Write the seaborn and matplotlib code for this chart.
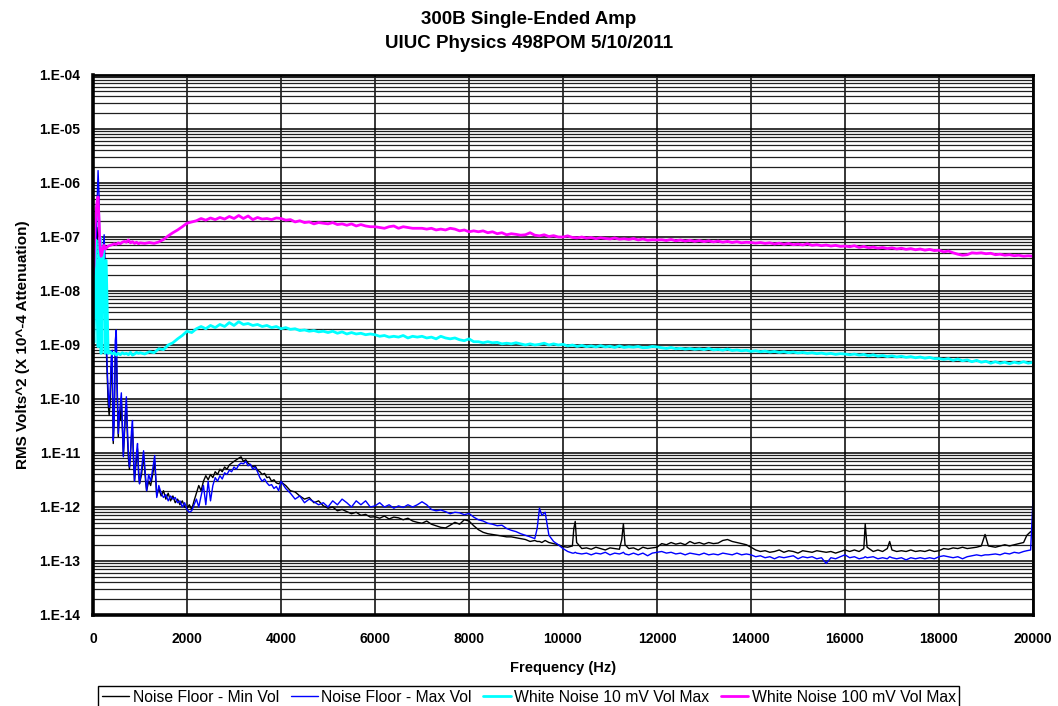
"""
300B single-ended amp noise spectra (UIUC Physics 498POM, 5/10/2011)
Excel-style log plot of RMS Volts^2 vs frequency
"""

import math
import matplotlib
matplotlib.use('Agg')
import matplotlib.pyplot as plt
import seaborn as sns
from matplotlib.ticker import FixedLocator, FuncFormatter, LogLocator, NullFormatter


# Noise floor curves
floor_freq = [
    0, 21, 43, 64, 86, 108, 129, 151, 172, 194,
    215, 237, 258, 280, 301, 323, 344, 366, 388, 409,
    431, 452, 474, 495, 517, 538, 560, 581, 603, 624,
    646, 667, 689, 710, 732, 753, 775, 797, 818, 840,
    861, 883, 904, 926, 947, 969, 990, 1033, 1076, 1119,
    1141, 1184, 1227, 1270, 1313, 1356, 1400, 1450, 1500, 1550,
    1600, 1650, 1700, 1750, 1800, 1850, 1900, 1950, 2000, 2050,
    2100, 2150, 2200, 2250, 2300, 2350, 2400, 2450, 2500, 2550,
    2600, 2650, 2700, 2750, 2800, 2850, 2900, 2950, 3000, 3050,
    3100, 3150, 3200, 3250, 3300, 3350, 3400, 3450, 3500, 3550,
    3600, 3650, 3700, 3750, 3800, 3850, 3900, 3950, 4000, 4100,
    4200, 4300, 4400, 4500, 4600, 4700, 4800, 4900, 5000, 5100,
    5200, 5300, 5400, 5500, 5600, 5700, 5800, 5900, 6000, 6100,
    6200, 6300, 6400, 6500, 6600, 6700, 6800, 6900, 7000, 7100,
    7200, 7300, 7400, 7500, 7600, 7700, 7800, 7900, 8000, 8100,
    8200, 8300, 8400, 8500, 8600, 8700, 8800, 8900, 9000, 9100,
    9200, 9300, 9400, 9450, 9500, 9550, 9620, 9700, 9800, 9900,
    10000, 10100, 10200, 10230, 10260, 10290, 10400, 10500, 10600, 10700,
    10800, 10900, 11000, 11100, 11200, 11250, 11285, 11320, 11400, 11500,
    11600, 11700, 11800, 11900, 12000, 12100, 12200, 12300, 12400, 12500,
    12600, 12700, 12800, 12900, 13000, 13100, 13200, 13300, 13400, 13500,
    13600, 13700, 13800, 13900, 14000, 14100, 14200, 14300, 14400, 14500,
    14600, 14700, 14800, 14900, 15000, 15100, 15200, 15300, 15400, 15500,
    15600, 15700, 15800, 15900, 16000, 16100, 16200, 16300, 16400, 16430,
    16470, 16600, 16700, 16800, 16900, 16950, 17000, 17100, 17200, 17300,
    17400, 17500, 17600, 17700, 17800, 17900, 18000, 18100, 18200, 18300,
    18400, 18500, 18600, 18700, 18800, 18900, 18980, 19050, 19200, 19300,
    19400, 19500, 19600, 19700, 19800, 19870, 19950, 20000,
]

floor_min_vol = [
    3e-9, 1e-8, 4e-9, 2e-8, 8e-8, 1.5e-7, 1e-7, 3e-8, 5e-9, 3e-8,
    4e-8, 8e-8, 2e-8, 1e-9, 3e-10, 8e-11, 5e-11, 9e-11, 4e-10, 3e-10,
    1.5e-11, 5e-11, 6e-10, 1e-9, 1e-10, 2e-11, 6e-11, 4e-11, 9e-11, 3e-11,
    9e-12, 2e-11, 5e-11, 8e-11, 2e-11, 8e-12, 5e-12, 1e-11, 2e-11, 3e-11,
    8e-12, 3e-12, 5e-12, 8e-12, 1.2e-11, 5e-12, 2.7e-12, 4e-12, 9e-12, 3e-12,
    2e-12, 3e-12, 2.5e-12, 4e-12, 7e-12, 1.6e-12, 2.2e-12, 1.6e-12, 2e-12, 1.4e-12,
    1.8e-12, 1.3e-12, 1.6e-12, 1.2e-12, 1.4e-12, 1.1e-12, 1.3e-12, 1.0e-12, 9.5e-13, 1.1e-12,
    9e-13, 1.3e-12, 1.8e-12, 2.5e-12, 2.0e-12, 3.0e-12, 3.8e-12, 3.2e-12, 4.0e-12, 3.5e-12,
    4.5e-12, 4.0e-12, 5.0e-12, 4.5e-12, 5.5e-12, 5.0e-12, 6.0e-12, 6.5e-12, 7.0e-12, 7.5e-12,
    8.0e-12, 8.5e-12, 7.0e-12, 7.5e-12, 6.5e-12, 6.0e-12, 5.5e-12, 5.8e-12, 4.8e-12, 4.5e-12,
    4.0e-12, 4.2e-12, 3.5e-12, 3.6e-12, 3.0e-12, 3.2e-12, 2.8e-12, 2.7e-12, 2.9e-12, 2.5e-12,
    2.0e-12, 1.9e-12, 1.6e-12, 1.4e-12, 1.5e-12, 1.2e-12, 1.3e-12, 1.05e-12, 9.5e-13, 1.0e-12,
    8.5e-13, 9e-13, 8.2e-13, 7.5e-13, 8e-13, 7e-13, 7.3e-13, 6.5e-13, 6.6e-13, 6.2e-13,
    6.8e-13, 6e-13, 6.5e-13, 6.3e-13, 5.8e-13, 6.2e-13, 5.5e-13, 5.2e-13, 5.0e-13, 5.5e-13,
    4.8e-13, 4.5e-13, 4.2e-13, 4.1e-13, 4.6e-13, 5.2e-13, 4.8e-13, 5.8e-13, 5.5e-13, 4.5e-13,
    3.8e-13, 3.4e-13, 3.2e-13, 3.1e-13, 3.0e-13, 2.9e-13, 2.8e-13, 2.8e-13, 2.7e-13, 2.6e-13,
    2.5e-13, 2.3e-13, 2.4e-13, 2.3e-13, 2.3e-13, 2.2e-13, 2.4e-13, 2.2e-13, 2.1e-13, 2.0e-13,
    1.85e-13, 1.8e-13, 1.9e-13, 4.0e-13, 5.4e-13, 2.2e-13, 1.7e-13, 1.75e-13, 1.65e-13, 1.8e-13,
    1.7e-13, 1.6e-13, 1.75e-13, 1.7e-13, 1.65e-13, 2.5e-13, 4.9e-13, 2.0e-13, 1.7e-13, 1.75e-13,
    1.6e-13, 1.8e-13, 1.7e-13, 1.75e-13, 1.8e-13, 2.1e-13, 2.0e-13, 2.2e-13, 2.05e-13, 2.15e-13,
    2.0e-13, 2.3e-13, 2.1e-13, 2.2e-13, 2.05e-13, 2.2e-13, 2.1e-13, 2.15e-13, 2.4e-13, 2.5e-13,
    2.3e-13, 2.2e-13, 2.1e-13, 2.0e-13, 1.8e-13, 1.6e-13, 1.5e-13, 1.55e-13, 1.45e-13, 1.5e-13,
    1.6e-13, 1.45e-13, 1.55e-13, 1.5e-13, 1.4e-13, 1.55e-13, 1.5e-13, 1.45e-13, 1.55e-13, 1.5e-13,
    1.45e-13, 1.5e-13, 1.4e-13, 1.5e-13, 1.6e-13, 1.5e-13, 1.6e-13, 1.5e-13, 1.7e-13, 4.9e-13,
    1.8e-13, 1.5e-13, 1.6e-13, 1.5e-13, 1.7e-13, 2.3e-13, 1.6e-13, 1.5e-13, 1.55e-13, 1.5e-13,
    1.6e-13, 1.5e-13, 1.55e-13, 1.5e-13, 1.6e-13, 1.5e-13, 1.55e-13, 1.7e-13, 1.65e-13, 1.75e-13,
    1.7e-13, 1.8e-13, 1.7e-13, 1.75e-13, 1.8e-13, 1.9e-13, 3.1e-13, 1.9e-13, 1.8e-13, 1.9e-13,
    2.0e-13, 1.9e-13, 2.0e-13, 2.1e-13, 2.2e-13, 3.0e-13, 3.5e-13, 3.2e-13,
]

floor_max_vol = [
    1.3e-9, 2.1e-8, 5e-9, 3e-8, 4e-7, 1.7e-6, 5.6e-7, 4e-8, 8e-9, 5e-8,
    6e-8, 1.1e-7, 2.8e-8, 2e-9, 4e-10, 1.3e-10, 7e-11, 1.5e-10, 6e-10, 8e-10,
    1.7e-11, 4e-11, 1.2e-9, 1.9e-9, 1.5e-10, 2.3e-11, 5e-11, 8e-11, 1.3e-10, 4e-11,
    8.5e-12, 2.5e-11, 6e-11, 1.1e-10, 3e-11, 1e-11, 5.5e-12, 8e-12, 2.5e-11, 4e-11,
    9e-12, 3e-12, 6e-12, 1e-11, 1.5e-11, 4e-12, 2.7e-12, 5e-12, 1.1e-11, 3.5e-12,
    2e-12, 4e-12, 3e-12, 5e-12, 9e-12, 1.5e-12, 2.5e-12, 1.8e-12, 1.5e-12, 1.7e-12,
    1.3e-12, 1.6e-12, 1.4e-12, 1.5e-12, 1.2e-12, 1.3e-12, 1.0e-12, 1.2e-12, 9e-13, 8e-13,
    8.5e-13, 1.1e-12, 1.4e-12, 1.0e-12, 1.6e-12, 2.5e-12, 1.1e-12, 3.0e-12, 1.3e-12, 2.5e-12,
    3.5e-12, 3.0e-12, 3.8e-12, 3.3e-12, 4.3e-12, 4.0e-12, 4.8e-12, 4.5e-12, 5.5e-12, 5.0e-12,
    6.0e-12, 6.5e-12, 6.3e-12, 7.0e-12, 5.8e-12, 6.2e-12, 5.0e-12, 5.5e-12, 4.5e-12, 3.5e-12,
    3.0e-12, 3.3e-12, 2.8e-12, 2.5e-12, 2.6e-12, 2.2e-12, 2.4e-12, 2.0e-12, 3.0e-12, 2.2e-12,
    1.8e-12, 1.4e-12, 1.6e-12, 1.2e-12, 1.4e-12, 1.25e-12, 1.1e-12, 1.2e-12, 1.0e-12, 1.3e-12,
    1.1e-12, 1.4e-12, 1.2e-12, 1.0e-12, 1.3e-12, 1.1e-12, 1.3e-12, 1.0e-12, 1.05e-12, 1.2e-12,
    1.0e-12, 1.1e-12, 9.5e-13, 1.05e-12, 9.8e-13, 1.1e-12, 1.0e-12, 1.1e-12, 1.25e-12, 1.1e-12,
    9e-13, 8.5e-13, 8.8e-13, 8.2e-13, 7.5e-13, 8e-13, 7.8e-13, 7.2e-13, 7.6e-13, 6.5e-13,
    5.8e-13, 5.5e-13, 5.0e-13, 4.8e-13, 4.5e-13, 4.6e-13, 4.0e-13, 3.7e-13, 3.5e-13, 3.2e-13,
    3.0e-13, 2.8e-13, 2.6e-13, 4.0e-13, 9.5e-13, 7.0e-13, 8.0e-13, 3.0e-13, 2.3e-13, 2.0e-13,
    1.7e-13, 1.5e-13, 1.4e-13, 1.4e-13, 1.45e-13, 1.4e-13, 1.35e-13, 1.4e-13, 1.3e-13, 1.4e-13,
    1.35e-13, 1.45e-13, 1.3e-13, 1.4e-13, 1.35e-13, 1.4e-13, 1.45e-13, 1.35e-13, 1.3e-13, 1.4e-13,
    1.3e-13, 1.4e-13, 1.25e-13, 1.4e-13, 1.45e-13, 1.5e-13, 1.4e-13, 1.45e-13, 1.35e-13, 1.4e-13,
    1.3e-13, 1.4e-13, 1.35e-13, 1.3e-13, 1.4e-13, 1.3e-13, 1.35e-13, 1.3e-13, 1.4e-13, 1.35e-13,
    1.3e-13, 1.4e-13, 1.3e-13, 1.35e-13, 1.3e-13, 1.2e-13, 1.25e-13, 1.15e-13, 1.2e-13, 1.1e-13,
    1.2e-13, 1.15e-13, 1.2e-13, 1.25e-13, 1.1e-13, 1.2e-13, 1.15e-13, 1.2e-13, 1.1e-13, 1.15e-13,
    9e-14, 1.15e-13, 1.1e-13, 1.2e-13, 1.3e-13, 1.15e-13, 1.2e-13, 1.1e-13, 1.15e-13, 1.2e-13,
    1.15e-13, 1.2e-13, 1.1e-13, 1.15e-13, 1.1e-13, 1.2e-13, 1.15e-13, 1.1e-13, 1.15e-13, 1.05e-13,
    1.15e-13, 1.1e-13, 1.15e-13, 1.1e-13, 1.15e-13, 1.1e-13, 1.2e-13, 1.25e-13, 1.2e-13, 1.15e-13,
    1.2e-13, 1.1e-13, 1.2e-13, 1.25e-13, 1.3e-13, 1.25e-13, 1.3e-13, 1.3e-13, 1.35e-13, 1.3e-13,
    1.4e-13, 1.35e-13, 1.45e-13, 1.4e-13, 1.5e-13, 1.55e-13, 1.6e-13, 1.4e-12,
]

# White noise curves
white_freq = [
    0, 21, 43, 64, 86, 108, 129, 151, 172, 194,
    215, 237, 258, 280, 301, 323, 366, 409, 452, 495,
    538, 581, 624, 667, 710, 753, 797, 840, 883, 926,
    969, 1000, 1100, 1200, 1300, 1400, 1500, 1600, 1700, 1800,
    1900, 2000, 2100, 2200, 2300, 2400, 2500, 2600, 2700, 2800,
    2900, 3000, 3100, 3200, 3300, 3400, 3500, 3600, 3700, 3800,
    3900, 4000, 4100, 4200, 4300, 4400, 4500, 4600, 4700, 4800,
    4900, 5000, 5100, 5200, 5300, 5400, 5500, 5600, 5700, 5800,
    5900, 6000, 6100, 6200, 6300, 6400, 6500, 6600, 6700, 6800,
    6900, 7000, 7100, 7200, 7300, 7400, 7500, 7600, 7700, 7800,
    7900, 8000, 8100, 8200, 8300, 8400, 8500, 8600, 8700, 8800,
    8900, 9000, 9100, 9200, 9300, 9400, 9500, 9600, 9700, 9800,
    9900, 10000, 10100, 10200, 10300, 10400, 10500, 10600, 10700, 10800,
    10900, 11000, 11100, 11200, 11300, 11400, 11500, 11600, 11700, 11800,
    11900, 12000, 12100, 12200, 12300, 12400, 12500, 12600, 12700, 12800,
    12900, 13000, 13100, 13200, 13300, 13400, 13500, 13600, 13700, 13800,
    13900, 14000, 14100, 14200, 14300, 14400, 14500, 14600, 14700, 14800,
    14900, 15000, 15100, 15200, 15300, 15400, 15500, 15600, 15700, 15800,
    15900, 16000, 16100, 16200, 16300, 16400, 16500, 16600, 16700, 16800,
    16900, 17000, 17100, 17200, 17300, 17400, 17500, 17600, 17700, 17800,
    17900, 18000, 18100, 18200, 18300, 18400, 18500, 18600, 18700, 18800,
    18900, 19000, 19100, 19200, 19300, 19400, 19500, 19600, 19700, 19800,
    19900, 20000,
]

white_10mv = [
    2.5e-9, 1.1e-9, 8e-9, 8.8e-8, 5e-9, 9.3e-10, 3e-8, 1.0e-7, 7e-10, 2e-8,
    6.6e-8, 8e-9, 7e-10, 3.7e-8, 5e-9, 7e-10, 7.5e-10, 6.8e-10, 7.2e-10, 6.5e-10,
    7e-10, 6.6e-10, 7.2e-10, 6.8e-10, 7e-10, 6.6e-10, 7.3e-10, 6.5e-10, 6.8e-10, 7.3e-10,
    7.0e-10, 7.2e-10, 6.8e-10, 7.5e-10, 7.2e-10, 8.5e-10, 8.2e-10, 1.0e-9, 1.1e-9, 1.3e-9,
    1.5e-9, 1.8e-9, 1.7e-9, 2.0e-9, 2.2e-9, 2.0e-9, 2.3e-9, 2.1e-9, 2.4e-9, 2.2e-9,
    2.6e-9, 2.3e-9, 2.7e-9, 2.4e-9, 2.5e-9, 2.3e-9, 2.4e-9, 2.2e-9, 2.3e-9, 2.1e-9,
    2.2e-9, 2.0e-9, 2.1e-9, 1.95e-9, 2.0e-9, 1.85e-9, 1.9e-9, 1.8e-9, 1.85e-9, 1.75e-9,
    1.8e-9, 1.7e-9, 1.8e-9, 1.65e-9, 1.75e-9, 1.6e-9, 1.7e-9, 1.6e-9, 1.65e-9, 1.55e-9,
    1.6e-9, 1.55e-9, 1.45e-9, 1.5e-9, 1.4e-9, 1.45e-9, 1.4e-9, 1.5e-9, 1.35e-9, 1.45e-9,
    1.4e-9, 1.45e-9, 1.35e-9, 1.4e-9, 1.3e-9, 1.45e-9, 1.35e-9, 1.3e-9, 1.35e-9, 1.25e-9,
    1.2e-9, 1.3e-9, 1.15e-9, 1.15e-9, 1.1e-9, 1.15e-9, 1.1e-9, 1.12e-9, 1.05e-9, 1.08e-9,
    1.05e-9, 1.1e-9, 1.05e-9, 1.0e-9, 1.05e-9, 1.0e-9, 1.03e-9, 1.08e-9, 1.0e-9, 1.05e-9,
    1.0e-9, 1.03e-9, 9.6e-10, 1.0e-9, 9.4e-10, 9.8e-10, 9.3e-10, 9.6e-10, 9.2e-10, 9.7e-10,
    9.2e-10, 9.5e-10, 9.0e-10, 9.6e-10, 9.0e-10, 9.3e-10, 9.1e-10, 9.4e-10, 8.9e-10, 9.0e-10,
    9.4e-10, 9.2e-10, 8.9e-10, 8.6e-10, 9.0e-10, 8.5e-10, 8.7e-10, 8.4e-10, 8.6e-10, 8.3e-10,
    8.5e-10, 8.2e-10, 8.6e-10, 8.1e-10, 8.3e-10, 8.0e-10, 8.4e-10, 7.9e-10, 8.1e-10, 7.8e-10,
    8.0e-10, 7.6e-10, 7.8e-10, 7.5e-10, 7.7e-10, 7.4e-10, 7.6e-10, 7.3e-10, 7.5e-10, 7.2e-10,
    7.4e-10, 7.1e-10, 7.3e-10, 7.0e-10, 7.2e-10, 6.9e-10, 7.1e-10, 6.8e-10, 7.0e-10, 6.7e-10,
    6.9e-10, 6.8e-10, 6.6e-10, 6.8e-10, 6.5e-10, 6.7e-10, 6.3e-10, 6.6e-10, 6.2e-10, 6.4e-10,
    6.1e-10, 6.3e-10, 6.0e-10, 6.2e-10, 5.9e-10, 6.1e-10, 5.8e-10, 6.0e-10, 5.7e-10, 5.9e-10,
    5.6e-10, 5.6e-10, 5.4e-10, 5.6e-10, 5.2e-10, 5.5e-10, 5.1e-10, 5.3e-10, 4.9e-10, 5.2e-10,
    4.8e-10, 5.0e-10, 4.6e-10, 4.9e-10, 4.6e-10, 4.8e-10, 4.5e-10, 4.8e-10, 4.6e-10, 4.9e-10,
    4.6e-10, 4.8e-10,
]

white_100mv = [
    2e-8, 3e-8, 1.5e-7, 3e-7, 4.5e-7, 5.5e-7, 2e-7, 6e-8, 4.4e-8, 5e-8,
    6.6e-8, 7e-8, 6e-8, 6.2e-8, 6.5e-8, 6.8e-8, 7e-8, 7.2e-8, 7.5e-8, 7.3e-8,
    7.8e-8, 7.5e-8, 8e-8, 8.3e-8, 8e-8, 8.8e-8, 7.8e-8, 8.2e-8, 7.6e-8, 8e-8,
    7.5e-8, 7.8e-8, 7.6e-8, 7.9e-8, 7.6e-8, 8.1e-8, 9e-8, 1.05e-7, 1.2e-7, 1.35e-7,
    1.55e-7, 1.8e-7, 1.9e-7, 2.0e-7, 2.2e-7, 2.05e-7, 2.25e-7, 2.1e-7, 2.3e-7, 2.15e-7,
    2.4e-7, 2.2e-7, 2.5e-7, 2.2e-7, 2.45e-7, 2.1e-7, 2.3e-7, 2.15e-7, 2.2e-7, 2.1e-7,
    2.25e-7, 2.2e-7, 2.05e-7, 2.1e-7, 1.9e-7, 2.0e-7, 1.85e-7, 1.9e-7, 1.75e-7, 1.85e-7,
    1.8e-7, 1.75e-7, 1.85e-7, 1.7e-7, 1.75e-7, 1.65e-7, 1.75e-7, 1.6e-7, 1.7e-7, 1.6e-7,
    1.55e-7, 1.55e-7, 1.5e-7, 1.45e-7, 1.55e-7, 1.6e-7, 1.45e-7, 1.55e-7, 1.5e-7, 1.45e-7,
    1.45e-7, 1.45e-7, 1.4e-7, 1.45e-7, 1.35e-7, 1.4e-7, 1.35e-7, 1.45e-7, 1.4e-7, 1.3e-7,
    1.35e-7, 1.25e-7, 1.3e-7, 1.25e-7, 1.3e-7, 1.2e-7, 1.25e-7, 1.15e-7, 1.2e-7, 1.1e-7,
    1.15e-7, 1.12e-7, 1.08e-7, 1.1e-7, 1.2e-7, 1.08e-7, 1.05e-7, 1.1e-7, 1.02e-7, 1.06e-7,
    1.0e-7, 1.0e-7, 1.05e-7, 9.8e-8, 9.6e-8, 1.0e-7, 9.5e-8, 9.8e-8, 9.3e-8, 9.7e-8,
    9.4e-8, 9.2e-8, 9.6e-8, 9.1e-8, 9.3e-8, 9.0e-8, 9.4e-8, 8.8e-8, 9.2e-8, 8.7e-8,
    8.9e-8, 8.8e-8, 8.9e-8, 8.6e-8, 9.0e-8, 8.5e-8, 8.8e-8, 8.4e-8, 8.7e-8, 8.3e-8,
    8.6e-8, 8.2e-8, 8.5e-8, 8.1e-8, 8.4e-8, 8.0e-8, 8.3e-8, 7.9e-8, 8.2e-8, 7.8e-8,
    8.0e-8, 7.9e-8, 7.7e-8, 7.9e-8, 7.6e-8, 7.8e-8, 7.4e-8, 7.7e-8, 7.3e-8, 7.6e-8,
    7.2e-8, 7.4e-8, 7.1e-8, 7.5e-8, 7.0e-8, 7.2e-8, 6.9e-8, 7.1e-8, 6.8e-8, 7.0e-8,
    6.7e-8, 6.8e-8, 6.6e-8, 6.9e-8, 6.4e-8, 6.7e-8, 6.3e-8, 6.5e-8, 6.2e-8, 6.4e-8,
    6.1e-8, 6.3e-8, 6.0e-8, 6.2e-8, 5.9e-8, 6.1e-8, 5.8e-8, 6.0e-8, 5.7e-8, 5.9e-8,
    5.6e-8, 5.7e-8, 5.3e-8, 5.5e-8, 5.1e-8, 4.8e-8, 4.6e-8, 4.7e-8, 5.1e-8, 5.0e-8,
    5.1e-8, 4.9e-8, 5.0e-8, 4.7e-8, 4.8e-8, 4.6e-8, 4.7e-8, 4.5e-8, 4.6e-8, 4.4e-8,
    4.5e-8, 4.4e-8,
]

series_names = ['Noise Floor - Min Vol', 'Noise Floor - Max Vol',
                'White Noise 10 mV Vol Max', 'White Noise 100 mV Vol Max']
series_colors = ['#000000', '#0000ff', '#00ffff', '#ff00ff']
decade_ticks = [1e-14, 1e-13, 1e-12, 1e-11, 1e-10, 1e-9, 1e-8, 1e-7, 1e-6, 1e-5, 1e-4]
freq_ticks = list(range(0, 20001, 2000))


sns.set_style('white')
plt.rcParams['font.family'] = ['Liberation Sans', 'DejaVu Sans']
plt.rcParams['text.color'] = 'black'
plt.rcParams['axes.labelcolor'] = 'black'
plt.rcParams['xtick.color'] = 'black'
plt.rcParams['ytick.color'] = 'black'

fig = plt.figure(figsize=(10.58, 7.06), dpi=100)
ax = fig.add_axes([93 / 1058, 1 - 615 / 706, 940 / 1058, 540 / 706])

# draw in Excel series order (first series at the bottom)
curves = [(floor_freq, floor_min_vol, 1.0),
          (floor_freq, floor_max_vol, 1.0),
          (white_freq, white_10mv, 2.0),
          (white_freq, white_100mv, 2.0)]
for (freq, vals, lw), name, color in zip(curves, series_names, series_colors):
    sns.lineplot(x=freq, y=vals, color=color, linewidth=lw, label=name,
                 estimator=None, sort=False, ax=ax)

ax.set_yscale('log')
ax.set_ylim(1e-14, 1e-4)
ax.set_xlim(0, 20000)

ax.yaxis.set_major_locator(FixedLocator(decade_ticks))
ax.yaxis.set_major_formatter(FuncFormatter(lambda v, p: '1.E-%02d' % round(-math.log10(v))))
ax.yaxis.set_minor_locator(LogLocator(base=10, subs=range(2, 10), numticks=100))
ax.yaxis.set_minor_formatter(NullFormatter())
ax.xaxis.set_major_locator(FixedLocator(freq_ticks))

# Excel-style black grid
ax.set_axisbelow(True)
ax.grid(which='major', axis='both', color='black', linewidth=1.1)
ax.grid(which='minor', axis='y', color='#202020', linewidth=0.9)

ax.tick_params(which='major', direction='out', length=4, width=1.5, color='black',
               labelsize=10, pad=5)
ax.tick_params(axis='x', which='major', pad=8)
ax.tick_params(which='minor', length=0)
for lab in ax.get_xticklabels() + ax.get_yticklabels():
    lab.set_fontweight('bold')

for side in ['left', 'bottom']:
    ax.spines[side].set_linewidth(2.6)
for side in ['top', 'right']:
    ax.spines[side].set_linewidth(2.0)
for side in ax.spines:
    ax.spines[side].set_color('black')

ax.set_xlabel('Frequency (Hz)', fontsize=10.5, fontweight='bold', labelpad=11)
ax.set_ylabel('RMS Volts^2 (X 10^-4 Attenuation)', fontsize=11, fontweight='bold', labelpad=7)

fig.text(0.5, 1 - 19 / 706, '300B Single-Ended Amp', ha='center', va='center',
         fontsize=13.5, fontweight='bold')
fig.text(0.5, 1 - 44 / 706, 'UIUC Physics 498POM 5/10/2011', ha='center', va='center',
         fontsize=13.5, fontweight='bold')

# legend at the bottom (cut off by the figure edge, like the original)
handles, labels = ax.get_legend_handles_labels()
ax.get_legend().remove()
leg = fig.legend(handles, labels, loc='upper left', bbox_to_anchor=(98 / 1058, 1 - 686 / 706),
                 ncol=4, fontsize=11.3, frameon=True, fancybox=False, framealpha=1,
                 edgecolor='black', handlelength=1.75, handletextpad=0.2,
                 columnspacing=0.75, borderpad=0.25, borderaxespad=0)
leg.get_frame().set_linewidth(1.0)

fig.savefig('out.png', dpi=100)
